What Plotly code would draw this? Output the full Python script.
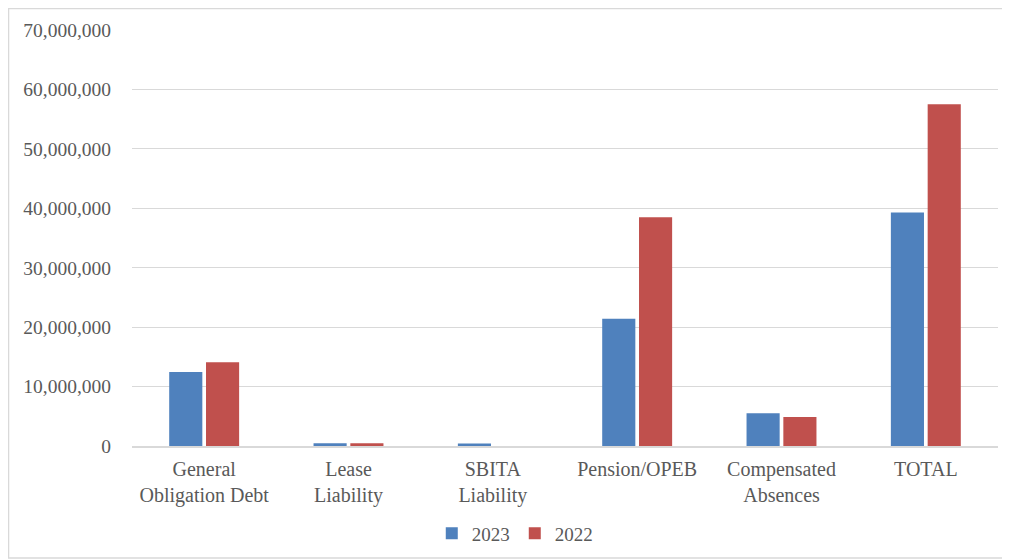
import plotly.graph_objects as go

categories = ['General<br>Obligation Debt', 'Lease<br>Liability', 'SBITA<br>Liability',
              'Pension/OPEB', 'Compensated<br>Absences', 'TOTAL']
values_2023 = [12450000, 450000, 420000, 21400000, 5500000, 39300000]
values_2022 = [14100000, 450000, 0, 38500000, 4900000, 57500000]
y_ticks = [0, 10000000, 20000000, 30000000, 40000000, 50000000, 60000000, 70000000]

font_main = "Liberation Serif, Times New Roman, serif"
text_color = '#595959'
grid_color = '#D9D9D9'

fig = go.Figure()
fig.add_trace(go.Bar(x=categories, y=values_2023, name='2023',
                     marker_color='#4F81BD', marker_line_width=0))
fig.add_trace(go.Bar(x=categories, y=values_2022, name='2022',
                     marker_color='#C0504D', marker_line_width=0))

# page body has an 8px margin, so the figure is a bit smaller than the window
fig.update_layout(
    width=1002, height=552,
    margin=dict(l=124, r=12, t=22, b=114, autoexpand=False),
    paper_bgcolor='white', plot_bgcolor='white',
    font=dict(family=font_main, size=19, color=text_color),
    barmode='group', bargap=0.49, bargroupgap=0.1,
    showlegend=True,
    legend=dict(orientation='h', x=0.442, xanchor='center', y=-0.21, yanchor='middle',
                font=dict(size=19), itemwidth=30, tracegroupgap=0),
    shapes=[dict(type='rect', xref='paper', yref='paper',
                 x0=-0.1426, x1=1.0115, y0=-0.269, y1=1.0517,
                 line=dict(color=grid_color, width=1.5), fillcolor='rgba(0,0,0,0)', layer='below')],
)
fig.update_yaxes(range=[0, 70000000], tickvals=y_ticks, tickformat=',d', automargin=False,
                 showgrid=True, gridcolor=grid_color, gridwidth=1, tickfont=dict(size=19.5),
                 zeroline=False, showline=False, ticks='', ticklabelstandoff=20)
fig.update_xaxes(showline=True, linecolor=grid_color, linewidth=1.5, ticks='', automargin=False,
                 showgrid=False, tickfont=dict(size=20), ticklabelstandoff=4)

fig.write_html("out.html")
